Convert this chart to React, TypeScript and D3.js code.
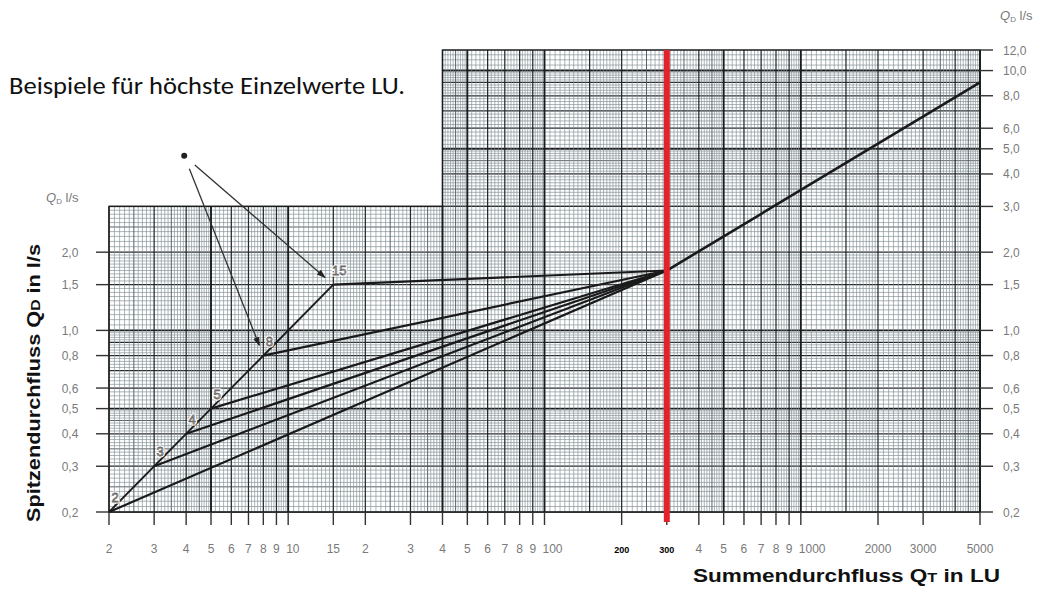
import React from 'react';
import * as d3 from 'd3';

const W = 1041;
const H = 599;

// Data (LU -> peak flow l/s)
const stemLU = [2, 3, 4, 5, 8, 15];
const stemQ = [0.2, 0.3, 0.4, 0.5, 0.8, 1.5];
const stemLabels = ['2', '3', '4', '5', '8', '15'];
const junctionLU = 300;
const junctionQ = 1.7;
const upperLU = [300, 5000];
const upperQ = [1.7, 9.0];
const annotLU = 3.93;
const annotQ = 4.7;
const annotTargets = [4, 5];

const xTicks = [2, 3, 4, 5, 6, 7, 8, 9, 10, 15, 20, 30, 40, 50, 60, 70, 80, 90, 100, 200, 300, 400, 500, 600, 700, 800, 900, 1000, 2000, 3000, 5000];
const xTickLabels = ['2', '3', '4', '5', '6', '7', '8', '9', '10', '15', '2', '3', '4', '5', '6', '7', '8', '9', '100', '200', '300', '4', '5', '6', '7', '8', '9', '1000', '2000', '3000', '5000'];
const xBoldTicks = [200, 300];
const xStartAligned = [10, 100, 1000];
const leftTicks = [0.2, 0.3, 0.4, 0.5, 0.6, 0.8, 1.0, 1.5, 2.0];
const rightTicks = [0.2, 0.3, 0.4, 0.5, 0.6, 0.8, 1.0, 1.5, 2.0, 3.0, 4.0, 5.0, 6.0, 8.0, 10.0, 12.0];

const xLo = 2, xMid = 40, xHi = 5000;
const yLo = 0.2, yMid = 3.0, yHi = 12.0;

const x = d3.scaleLog().domain([xLo, xHi]).range([109, 980]);
const y = d3.scaleLog().domain([yLo, yHi]).range([512, 50]);

const fmt = (v: number) => d3.format('.1f')(v).replace('.', ',');

type GV = { v: number; level: number };
function gridValues(lo: number, hi: number): GV[] {
  const out: GV[] = [];
  const k0 = Math.floor(Math.log10(lo));
  const k1 = Math.ceil(Math.log10(hi));
  for (let k = k0; k <= k1; k++) {
    const d = Math.pow(10, k);
    for (let i = 20; i < 200; i++) {
      const m = i / 20;
      let include = false;
      if (m < 2) include = true;
      else if (m < 5) include = i % 2 === 0;
      else include = i % 4 === 0;
      if (!include) continue;
      const v = +((i * d) / 20).toPrecision(10);
      if (v < lo * (1 - 1e-9) || v > hi * (1 + 1e-9)) continue;
      let level = 0;
      if (i % 20 === 0 || i === 30) level = 2;
      else if (i % 10 === 0 && m < 5) level = 1;
      if (i === 20 || i === 100) level = 3;
      out.push({ v, level });
    }
  }
  return out;
}

const levelStroke = ['#7f8c92', '#525c61', '#26292b', '#1a1c1d'];
const levelWidth = [0.65, 0.95, 1.25, 1.9];

const lineGen = d3
  .line<[number, number]>()
  .x((d) => x(d[0]))
  .y((d) => y(d[1]));

const tickFont = "'Liberation Sans', Arial, sans-serif";

export default function App() {
  const vLow = gridValues(xLo, xMid);
  const vHigh = gridValues(xMid, xHi);
  const hLow = gridValues(yLo, yMid);
  const hHigh = gridValues(yMid, yHi);

  const gridLines: JSX.Element[] = [];
  const pushLines = (arr: GV[], orient: 'v' | 'h', a: number, b: number, key: string) => {
    arr
      .slice()
      .sort((p, q) => p.level - q.level)
      .forEach((g, i) => {
        if (orient === 'v') {
          gridLines.push(
            <line key={key + i} x1={x(g.v)} x2={x(g.v)} y1={y(a)} y2={y(b)} stroke={levelStroke[g.level]} strokeWidth={levelWidth[g.level]} />
          );
        } else {
          gridLines.push(
            <line key={key + i} y1={y(g.v)} y2={y(g.v)} x1={x(a)} x2={x(b)} stroke={levelStroke[g.level]} strokeWidth={levelWidth[g.level]} />
          );
        }
      });
  };
  pushLines(hLow, 'h', xLo, xHi, 'hl');
  pushLines(hHigh, 'h', xMid, xHi, 'hh');
  pushLines(vLow, 'v', yLo, yMid, 'vl');
  pushLines(vHigh, 'v', yLo, yHi, 'vh');

  const stemPts: [number, number][] = stemLU.map((v, i) => [v, stemQ[i]]);
  const jx = x(junctionLU);

  const ax = x(annotLU);
  const ay = y(annotQ);

  return (
    <svg width={W} height={H} style={{ position: 'absolute', left: 0, top: 0, background: '#fff' }} xmlns="http://www.w3.org/2000/svg">
      <defs>
        <marker id="arrow" viewBox="0 0 10 10" refX="9" refY="5" markerWidth="7" markerHeight="7" orient="auto-start-reverse">
          <path d="M0,1.5 L10,5 L0,8.5 z" fill="#222" />
        </marker>
      </defs>
      <rect x={0} y={0} width={W} height={H} fill="#fff" />

      {/* grid */}
      <g>{gridLines}</g>
      <rect x={x(xLo)} y={y(yMid)} width={x(xMid) - x(xLo)} height={y(yLo) - y(yMid)} fill="none" stroke="#1a1c1d" strokeWidth={1.4} />
      <rect x={x(xMid)} y={y(yHi)} width={x(xHi) - x(xMid)} height={y(yLo) - y(yHi)} fill="none" stroke="#1a1c1d" strokeWidth={1.4} />

      {/* left ticks */}
      {leftTicks.map((t) => (
        <g key={'lt' + t}>
          <line x1={x(xLo) - 13} x2={x(xLo)} y1={y(t)} y2={y(t)} stroke="#333" strokeWidth={1.4} />
          <text x={70} y={y(t) + 4.5} textAnchor="middle" fontFamily={tickFont} fontSize={12} fill="#7a7a7a">
            {fmt(t)}
          </text>
        </g>
      ))}
      {/* right ticks */}
      {rightTicks.map((t) => (
        <g key={'rt' + t}>
          <line x1={x(xHi)} x2={x(xHi) + 13} y1={y(t)} y2={y(t)} stroke="#333" strokeWidth={1.4} />
          <text x={1003} y={y(t) + 4.5} textAnchor="start" fontFamily={tickFont} fontSize={12} fill="#7a7a7a">
            {fmt(t)}
          </text>
        </g>
      ))}
      {/* bottom ticks */}
      {xTicks.map((t, i) => {
        const bold = xBoldTicks.includes(t);
        const start = xStartAligned.includes(t);
        return (
          <g key={'bt' + t}>
            <line x1={x(t)} x2={x(t)} y1={y(yLo)} y2={y(yLo) + 13} stroke="#333" strokeWidth={1.4} />
            <text
              x={start ? x(t) - 2 : x(t)}
              y={553}
              textAnchor={start ? 'start' : 'middle'}
              fontFamily={tickFont}
              fontSize={bold ? 9 : 12}
              fontWeight={bold ? 'bold' : 'normal'}
              fill={bold ? '#000' : '#7a7a7a'}
            >
              {xTickLabels[i]}
            </text>
          </g>
        );
      })}

      {/* axis unit labels */}
      <text x={46} y={202} fontFamily={tickFont} fontSize={13} fill="#7a7a7a">
        <tspan fontStyle="italic">Q</tspan>
        <tspan fontSize={8} dy={2}>D</tspan>
        <tspan dy={-2}> l/s</tspan>
      </text>
      <text x={1000} y={20} fontFamily={tickFont} fontSize={13} fill="#7a7a7a">
        <tspan fontStyle="italic">Q</tspan>
        <tspan fontSize={8} dy={2}>D</tspan>
        <tspan dy={-2}> l/s</tspan>
      </text>

      {/* data lines */}
      {stemPts.map((p, i) => (
        <path key={'fan' + i} d={lineGen([p, [junctionLU, junctionQ]]) || ''} fill="none" stroke="#1a1a1a" strokeWidth={2.2} />
      ))}
      <path d={lineGen([stemPts[0], stemPts[stemPts.length - 1]]) || ''} fill="none" stroke="#1a1a1a" strokeWidth={1.9} />
      <path d={lineGen(upperLU.map((v, i) => [v, upperQ[i]] as [number, number])) || ''} fill="none" stroke="#1a1a1a" strokeWidth={2.6} />

      {/* point labels: white digits with a light halo and thin dark outline */}
      {stemPts.map((p, i) => (
        <g key={'pl' + i}>
          <text
            x={x(p[0]) + 6}
            y={y(p[1]) - 10}
            textAnchor="middle"
            fontFamily={tickFont}
            fontSize={13}
            fill="#ffffff"
            stroke="#ffffff"
            strokeWidth={3}
          >
            {stemLabels[i]}
          </text>
          <text
            x={x(p[0]) + 6}
            y={y(p[1]) - 10}
            textAnchor="middle"
            fontFamily={tickFont}
            fontSize={13}
            fill="#ffffff"
            stroke="#6a6a6a"
            strokeWidth={0.8}
          >
            {stemLabels[i]}
          </text>
        </g>
      ))}

      {/* annotation */}
      <circle cx={ax} cy={ay} r={3} fill="#222" />
      {annotTargets.map((ti) => {
        const tx = x(stemLU[ti]);
        const ty = y(stemQ[ti]);
        const dx = tx - ax;
        const dy = ty - ay;
        const len = Math.hypot(dx, dy);
        const ux = dx / len;
        const uy = dy / len;
        return (
          <line
            key={'an' + ti}
            x1={ax + ux * 14}
            y1={ay + uy * 14}
            x2={tx - ux * 11}
            y2={ty - uy * 11}
            stroke="#333"
            strokeWidth={1.3}
            markerEnd="url(#arrow)"
          />
        );
      })}

      {/* red reference line at 300 LU */}
      <line x1={jx} x2={jx} y1={y(yHi)} y2={y(yLo) + 10} stroke="#e3232b" strokeWidth={6} />

      {/* titles */}
      <text x={9} y={94} fontFamily="Carlito, Lato, 'Open Sans', sans-serif" fontSize={24} fill="#111" textLength={396} lengthAdjust="spacingAndGlyphs">
        Beispiele für höchste Einzelwerte LU.
      </text>
      <text x={693} y={582} fontFamily={tickFont} fontWeight="bold" fontSize={18} fill="#111" textLength={307} lengthAdjust="spacingAndGlyphs">
        Summendurchfluss Q<tspan fontSize={13}>T</tspan> in LU
      </text>
      <text
        transform="translate(40, 383) rotate(-90)"
        textAnchor="middle"
        fontFamily={tickFont}
        fontWeight="bold"
        fontSize={18}
        fill="#111"
        textLength={278}
        lengthAdjust="spacingAndGlyphs"
      >
        Spitzendurchfluss Q<tspan fontSize={13}>D</tspan> in l/s
      </text>
    </svg>
  );
}
